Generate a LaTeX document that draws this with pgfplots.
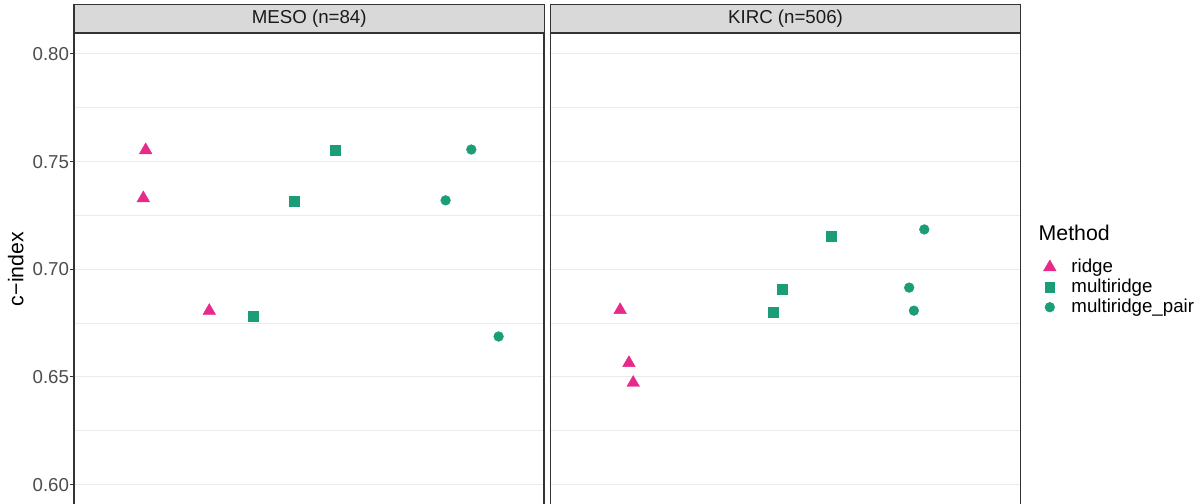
\documentclass[border=0pt]{standalone}
\usepackage{fontspec}
\setmainfont{Liberation Sans}
\usepackage{pgfplots}
\pgfplotsset{compat=1.18}

\definecolor{ridgecol}{HTML}{E7298A}
\definecolor{multicol}{HTML}{1B9E77}
\definecolor{paircol}{HTML}{1B9E77}
\definecolor{gridcol}{HTML}{EBEBEB}
\definecolor{bordercol}{HTML}{333333}
\definecolor{stripfill}{HTML}{D9D9D9}
\definecolor{ticklab}{HTML}{4D4D4D}
\definecolor{striptext}{HTML}{1A1A1A}

% x: jittered position around the method categories 1, 2, 3; y: c-index
\pgfplotstableread{
x      y
0.888  0.7553
0.872  0.7330
1.321  0.6807
}\mesoridge
\pgfplotstableread{
x      y
2.177  0.7554
1.898  0.7317
1.619  0.6782
}\mesomulti
\pgfplotstableread{
x      y
3.105  0.7556
2.930  0.7320
3.291  0.6688
}\mesopair
\pgfplotstableread{
x      y
0.874  0.6811
0.934  0.6565
0.963  0.6473
}\kircridge
\pgfplotstableread{
x      y
2.311  0.7153
1.977  0.6907
1.915  0.6800
}\kircmulti
\pgfplotstableread{
x      y
2.945  0.7185
2.842  0.6915
2.874  0.6808
}\kircpair

\newcommand{\txt}{\fontsize{18.7bp}{22bp}\selectfont}
\newcommand{\bigtxt}{\fontsize{21.3bp}{25bp}\selectfont}

\pgfplotsset{
  facet/.style={
    scale only axis, width=470bp, height=484bp,
    xmin=0.4, xmax=3.6, ymin=0.585, ymax=0.8097,
    xtick=\empty,
    ytick={0.60,0.65,0.70,0.75,0.80},
    minor ytick={0.625,0.675,0.725,0.775},
    ymajorgrids, yminorgrids,
    major grid style={gridcol, line width=1bp},
    minor grid style={gridcol, line width=0.8bp},
    axis line style={bordercol, line width=1.1bp},
    tick align=outside, ytick pos=left,
    major tick length=4bp, minor tick length=0pt,
    every tick/.style={bordercol, line width=1bp},
    yticklabel style={ticklab, font=\txt, inner xsep=0.8bp},
    /pgf/number format/.cd, fixed, fixed zerofill, precision=2, assume math mode=true,
  },
  ridge/.style={only marks, mark=triangle*, mark size=7.3bp,
    mark options={draw=ridgecol, fill=ridgecol, line width=0.4bp}},
  multi/.style={only marks, mark=square*, mark size=4.8bp,
    mark options={draw=multicol, fill=multicol, line width=0.4bp}},
  pair/.style={only marks, mark=*, mark size=4.9bp,
    mark options={draw=paircol, fill=paircol, line width=0.4bp}},
}

\begin{document}
\begin{tikzpicture}[x=1bp, y=1bp]

% MESO panel
\begin{axis}[facet, at={(74bp,-33bp)}, anchor=north west]
  \addplot[ridge] table[x=x, y=y] {\mesoridge};
  \addplot[multi] table[x=x, y=y] {\mesomulti};
  \addplot[pair]  table[x=x, y=y] {\mesopair};
\end{axis}

% KIRC panel
\begin{axis}[facet, at={(550.5bp,-33bp)}, anchor=north west,
  yticklabels={}, major tick length=0pt,
  legend style={at={(1.0485,0.5351)}, anchor=north west, draw=none, fill=none,
    inner sep=0pt, font=\txt,
    nodes={inner sep=0pt, text height=14bp, text depth=4bp},
    row sep=2bp,
    /tikz/every odd column/.append style={column sep=15.3bp}},
  legend cell align=left,
  legend image code/.code={\draw plot coordinates {(0bp,0bp)};}]
  \addplot[ridge] table[x=x, y=y] {\kircridge};
  \addlegendentry{ridge}
  \addplot[multi] table[x=x, y=y] {\kircmulti};
  \addlegendentry{multiridge}
  \addplot[pair]  table[x=x, y=y] {\kircpair};
  \addlegendentry{multiridge\_pair}
\end{axis}

% facet strips
\draw[bordercol, fill=stripfill, line width=1.1bp] (74,-4.5) rectangle (544.5,-33);
\draw[bordercol, fill=stripfill, line width=1.1bp] (550.5,-4.5) rectangle (1020.5,-33);
\node[striptext, font=\txt, anchor=center, inner sep=0pt] at (309.2,-18.75) {MESO (n=84)};
\node[striptext, font=\txt, anchor=center, inner sep=0pt] at (785.5,-18.75) {KIRC (n=506)};

% axis title and legend title
\node[rotate=90, anchor=base, font=\bigtxt, inner sep=0pt] at (23.3,-269) {c−index};
\node[anchor=base west, font=\bigtxt, inner sep=0pt] at (1038.5,-240.7) {Method};

\pgfresetboundingbox
\useasboundingbox (0,0) rectangle (1204,-504);
\end{tikzpicture}
\end{document}
